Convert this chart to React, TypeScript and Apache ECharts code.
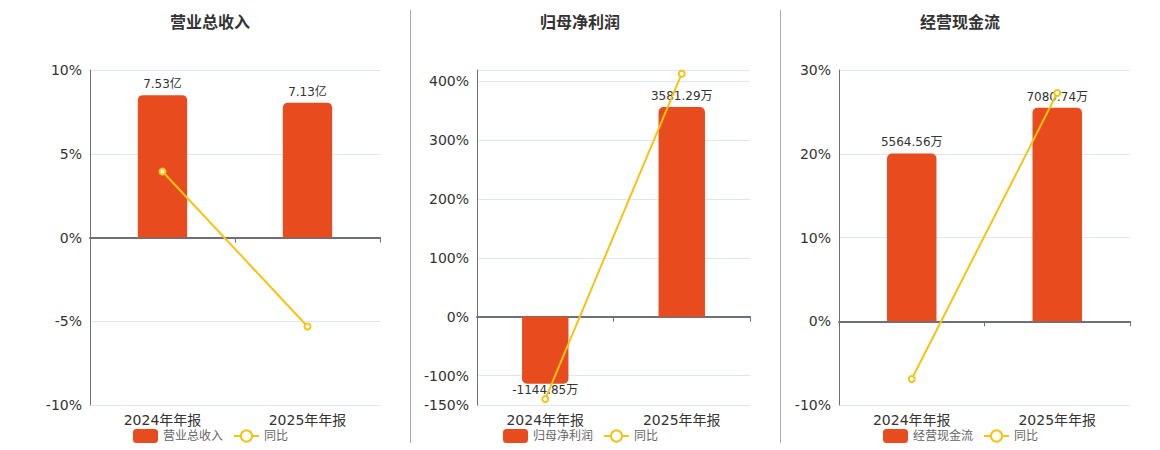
import React, { useEffect, useRef } from "react";
import * as echarts from "echarts";

const categories = ["2024年年报", "2025年年报"];

const titles = ["营业总收入", "归母净利润", "经营现金流"];
const units = ["亿", "万", "万"];

const revenue = [7.53, 7.13];
const revenueYoy = [3.94, -5.31];

const profit = [-1144.85, 3581.29];
const profitYoy = [-140, 412.8];

const cash = [5564.56, 7080.74];
const cashYoy = [-6.9, 27.25];

const pctRanges = [
  { min: -10, max: 10, interval: 5 },
  { min: -150, max: 419, interval: undefined as number | undefined },
  { min: -10, max: 30, interval: 10 },
];

const BAR_COLOR = "#e84c1e";
const LINE_COLOR = "#f4c414";
const FONT = "'DejaVu Sans', 'Noto Sans CJK SC', sans-serif";

export default function App() {
  const ref = useRef<HTMLDivElement>(null);

  useEffect(() => {
    if (!ref.current) return;
    const chart = echarts.init(ref.current, undefined, { renderer: "svg" });

    const barSets = [revenue, profit, cash];
    const yoySets = [revenueYoy, profitYoy, cashYoy];
    const grids = [
      { left: 90, top: 70, width: 290, height: 335 },
      { left: 477, top: 70, width: 273, height: 335 },
      { left: 839, top: 70, width: 291, height: 335 },
    ];
    const centers = [210, 580, 960];

    const xAxis: any[] = [];
    const yAxis: any[] = [];
    const series: any[] = [];
    const legend: any[] = [];
    const title: any[] = [];

    grids.forEach((g, i) => {
      xAxis.push({
        type: "category",
        gridIndex: i,
        data: categories,
        position: "bottom",
        axisLine: { show: false, onZero: false },
        axisTick: { show: false },
        axisLabel: { fontSize: 14, color: "#333", margin: 8, fontFamily: FONT },
      });
      xAxis.push({
        type: "category",
        gridIndex: i,
        data: categories,
        position: "bottom",
        axisLine: { show: true, onZero: true, lineStyle: { color: "#6e7079", width: 2 } },
        axisTick: { show: true, length: 5, lineStyle: { color: "#6e7079" } },
        axisLabel: { show: false },
      });
      const r = pctRanges[i];
      const pctAxis: any = {
        type: "value",
        gridIndex: i,
        position: "left",
        min: r.min,
        max: r.max,
        axisLine: { show: true, lineStyle: { color: "#6e7079", width: 1 } },
        axisTick: { show: false },
        axisLabel: { fontSize: 14, color: "#333", formatter: "{value}%", fontFamily: FONT },
        splitLine: { show: true, lineStyle: { color: "#e0e6f1" } },
      };
      if (r.interval !== undefined) pctAxis.interval = r.interval;
      yAxis.push(pctAxis);

      const vals = barSets[i];
      const maxAbs = Math.max(...vals.map((v) => Math.abs(v)));
      const barMax = maxAbs / 0.85;
      const barMin = (barMax * r.min) / r.max;
      yAxis.push({
        type: "value",
        gridIndex: i,
        position: "right",
        show: false,
        min: barMin,
        max: barMax,
        splitLine: { show: false },
      });

      series.push({
        type: "bar",
        name: titles[i],
        xAxisIndex: 2 * i,
        yAxisIndex: 2 * i + 1,
        barWidth: "34%",
        z: 2,
        itemStyle: { color: BAR_COLOR },
        data: vals.map((v) => ({
          value: v,
          itemStyle: { borderRadius: v >= 0 ? [5, 5, 0, 0] : [0, 0, 5, 5] },
          label: v >= 0 ? { position: "top", distance: 5 } : { position: "bottom", distance: 0 },
        })),
        label: {
          show: true,
          fontSize: 12,
          color: "#333",
          distance: 5,
          fontFamily: FONT,
          formatter: (p: any) => `${Number(p.value).toFixed(2)}${units[i]}`,
        },
      });
      series.push({
        type: "line",
        name: "同比",
        xAxisIndex: 2 * i,
        yAxisIndex: 2 * i,
        z: 5,
        symbol: "emptyCircle",
        symbolSize: 6,
        lineStyle: { color: LINE_COLOR, width: 2 },
        itemStyle: { color: LINE_COLOR },
        data: yoySets[i],
      });

      legend.push({
        data: [titles[i], "同比"],
        left: centers[i] - 77,
        top: 429,
        itemWidth: 25,
        itemHeight: 14,
        itemGap: 10,
        padding: 0,
        textStyle: { fontSize: 12, color: "#666", fontFamily: FONT },
      });
      title.push({
        text: titles[i],
        left: centers[i],
        textAlign: "center",
        top: 14,
        padding: 0,
        textStyle: { fontSize: 16, fontWeight: "bold", color: "#333", fontFamily: FONT },
      });
    });

    chart.setOption({
      animation: false,
      textStyle: { fontFamily: FONT },
      title,
      legend,
      grid: grids,
      xAxis,
      yAxis,
      series,
      graphic: [
        {
          type: "line",
          shape: { x1: 410.5, y1: 10, x2: 410.5, y2: 443 },
          style: { stroke: "#aaaaaa", lineWidth: 1 },
        },
        {
          type: "line",
          shape: { x1: 780.5, y1: 10, x2: 780.5, y2: 443 },
          style: { stroke: "#aaaaaa", lineWidth: 1 },
        },
      ],
    });

    return () => chart.dispose();
  }, []);

  return (
    <div
      ref={ref}
      style={{ position: "absolute", left: 0, top: 0, width: 1160, height: 450 }}
    />
  );
}
